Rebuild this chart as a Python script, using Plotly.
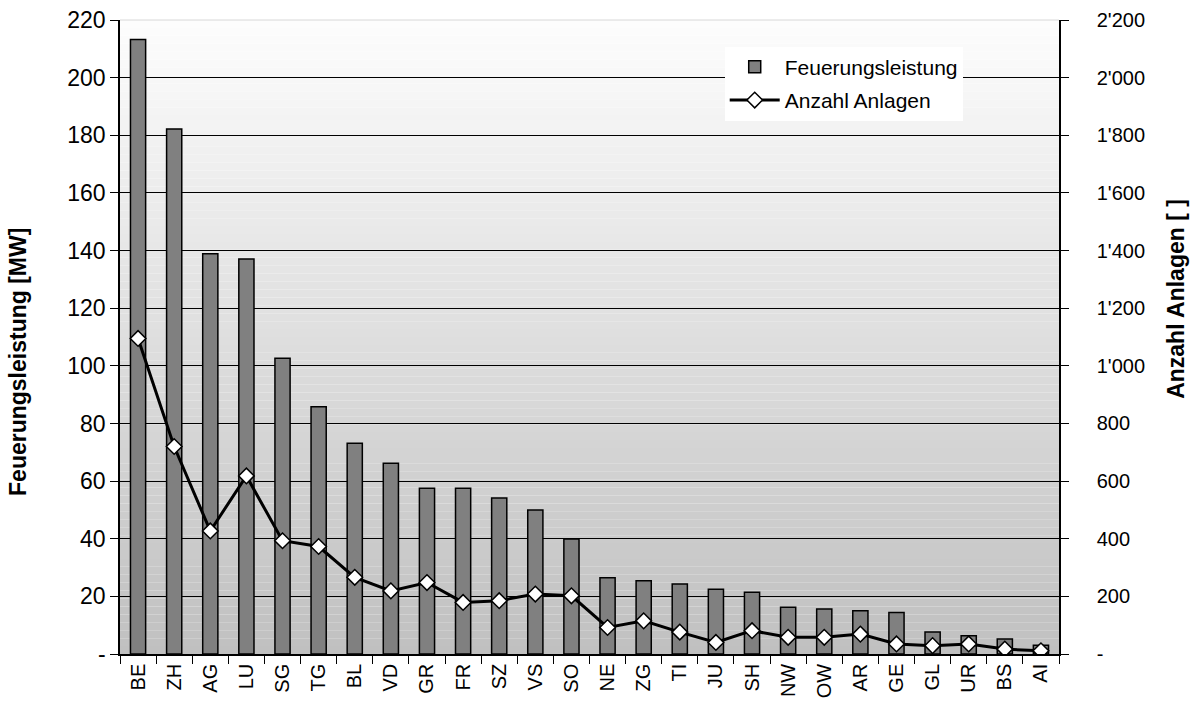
import plotly.graph_objects as go

cantons = ["BE", "ZH", "AG", "LU", "SG", "TG", "BL", "VD", "GR", "FR", "SZ", "VS", "SO",
           "NE", "ZG", "TI", "JU", "SH", "NW", "OW", "AR", "GE", "GL", "UR", "BS", "AI"]
feuerungsleistung = [213.2, 182.2, 138.9, 137.1, 102.6, 85.8, 73.1, 66.2, 57.5, 57.5, 54.1, 50.0, 39.9,
                     26.5, 25.4, 24.3, 22.5, 21.4, 16.2, 15.6, 15.0, 14.4, 7.6, 6.3, 5.2, 3.0]
anzahl_anlagen = [1095, 720, 427, 618, 393, 373, 266, 219, 248, 179, 185, 208, 202,
                  92, 115, 76, 40, 81, 58, 58, 69, 35, 29, 35, 17, 11]

left_tickvals = [0, 20, 40, 60, 80, 100, 120, 140, 160, 180, 200, 220]
left_ticktext = ["-", "20", "40", "60", "80", "100", "120", "140", "160", "180", "200", "220"]
right_tickvals = [0, 200, 400, 600, 800, 1000, 1200, 1400, 1600, 1800, 2000, 2200]
right_ticktext = ["-", "200", "400", "600", "800", "1'000", "1'200", "1'400", "1'600", "1'800", "2'000", "2'200"]
left_title = "Feuerungsleistung [MW]"
right_title = "Anzahl Anlagen [ ]"

FONT = "Liberation Sans, Arial, sans-serif"

fig = go.Figure()
fig.add_trace(go.Bar(
    x=cantons, y=feuerungsleistung, name="Feuerungsleistung",
    marker=dict(color="#808080", line=dict(color="#000000", width=1.5)),
    yaxis="y", legendgroup="a",
))
fig.add_trace(go.Scatter(
    x=cantons, y=anzahl_anlagen, name="Anzahl Anlagen", mode="lines+markers",
    line=dict(color="#000000", width=3),
    marker=dict(symbol="diamond", size=12, color="#ffffff", line=dict(color="#000000", width=1.5)),
    yaxis="y2", legendgroup="b",
))

# vertical gradient background of the plot area
shapes = []
n = 80
for i in range(n):
    t = (i + 0.5) / n  # 0 at bottom, 1 at top
    v = int(round(192 + (253 - 192) * t))
    shapes.append(dict(
        type="rect", xref="paper", yref="paper",
        x0=0, x1=1, y0=i / n, y1=(i + 1) / n,
        fillcolor=f"rgb({v},{v},{v})", line=dict(width=0), layer="below",
    ))
shapes.append(dict(type="line", xref="paper", yref="paper", x0=0, x1=1, y0=1, y1=1,
                   line=dict(color="#d8d8d8", width=1), layer="below"))

annotations = [
    dict(text=f"<b>{left_title}</b>", textangle=-90, xref="paper", yref="paper",
         x=-0.108, y=0.46, xanchor="center", yanchor="middle", showarrow=False,
         font=dict(family=FONT, size=23, color="#000000")),
    dict(text=f"<b>{right_title}</b>", textangle=-90, xref="paper", yref="paper",
         x=1.1245, y=0.56, xanchor="center", yanchor="middle", showarrow=False,
         font=dict(family=FONT, size=23, color="#000000")),
]

fig.update_layout(
    width=1204, height=702,
    margin=dict(l=120, r=145, t=20, b=48, pad=0, autoexpand=False),
    paper_bgcolor="#ffffff", plot_bgcolor="rgba(0,0,0,0)",
    font=dict(family=FONT, size=20, color="#000000"),
    bargap=0.58,
    showlegend=True,
    legend=dict(
        x=0.644, y=0.958, xanchor="left", yanchor="top",
        bgcolor="#ffffff", borderwidth=0,
        font=dict(family=FONT, size=21, color="#000000"),
        traceorder="grouped", tracegroupgap=3, itemwidth=50,
    ),
    shapes=shapes,
    annotations=annotations,
    xaxis=dict(
        type="category", range=[-0.5, 25.5], tickangle=-90, automargin=False,
        showline=True, linecolor="#000000", linewidth=1.5,
        ticks="outside", ticklen=8, tickcolor="#000000", tickson="boundaries",
        showgrid=False, tickfont=dict(family=FONT, size=20),
    ),
    yaxis=dict(
        range=[0, 220], tickvals=left_tickvals, ticktext=left_ticktext, automargin=False,
        showline=True, linecolor="#000000", linewidth=1.5,
        ticks="outside", ticklen=8, tickcolor="#000000",
        showgrid=True, gridcolor="#000000", gridwidth=1, zeroline=False,
        tickfont=dict(family=FONT, size=23),
    ),
    yaxis2=dict(
        range=[0, 2200], tickvals=right_tickvals, ticktext=right_ticktext, automargin=False,
        overlaying="y", side="right",
        showline=True, linecolor="#000000", linewidth=1.5,
        ticks="outside", ticklen=8, tickcolor="#000000", ticklabelstandoff=24,
        showgrid=False, zeroline=False,
        tickfont=dict(family=FONT, size=20),
    ),
)

fig.write_html("out.html")
